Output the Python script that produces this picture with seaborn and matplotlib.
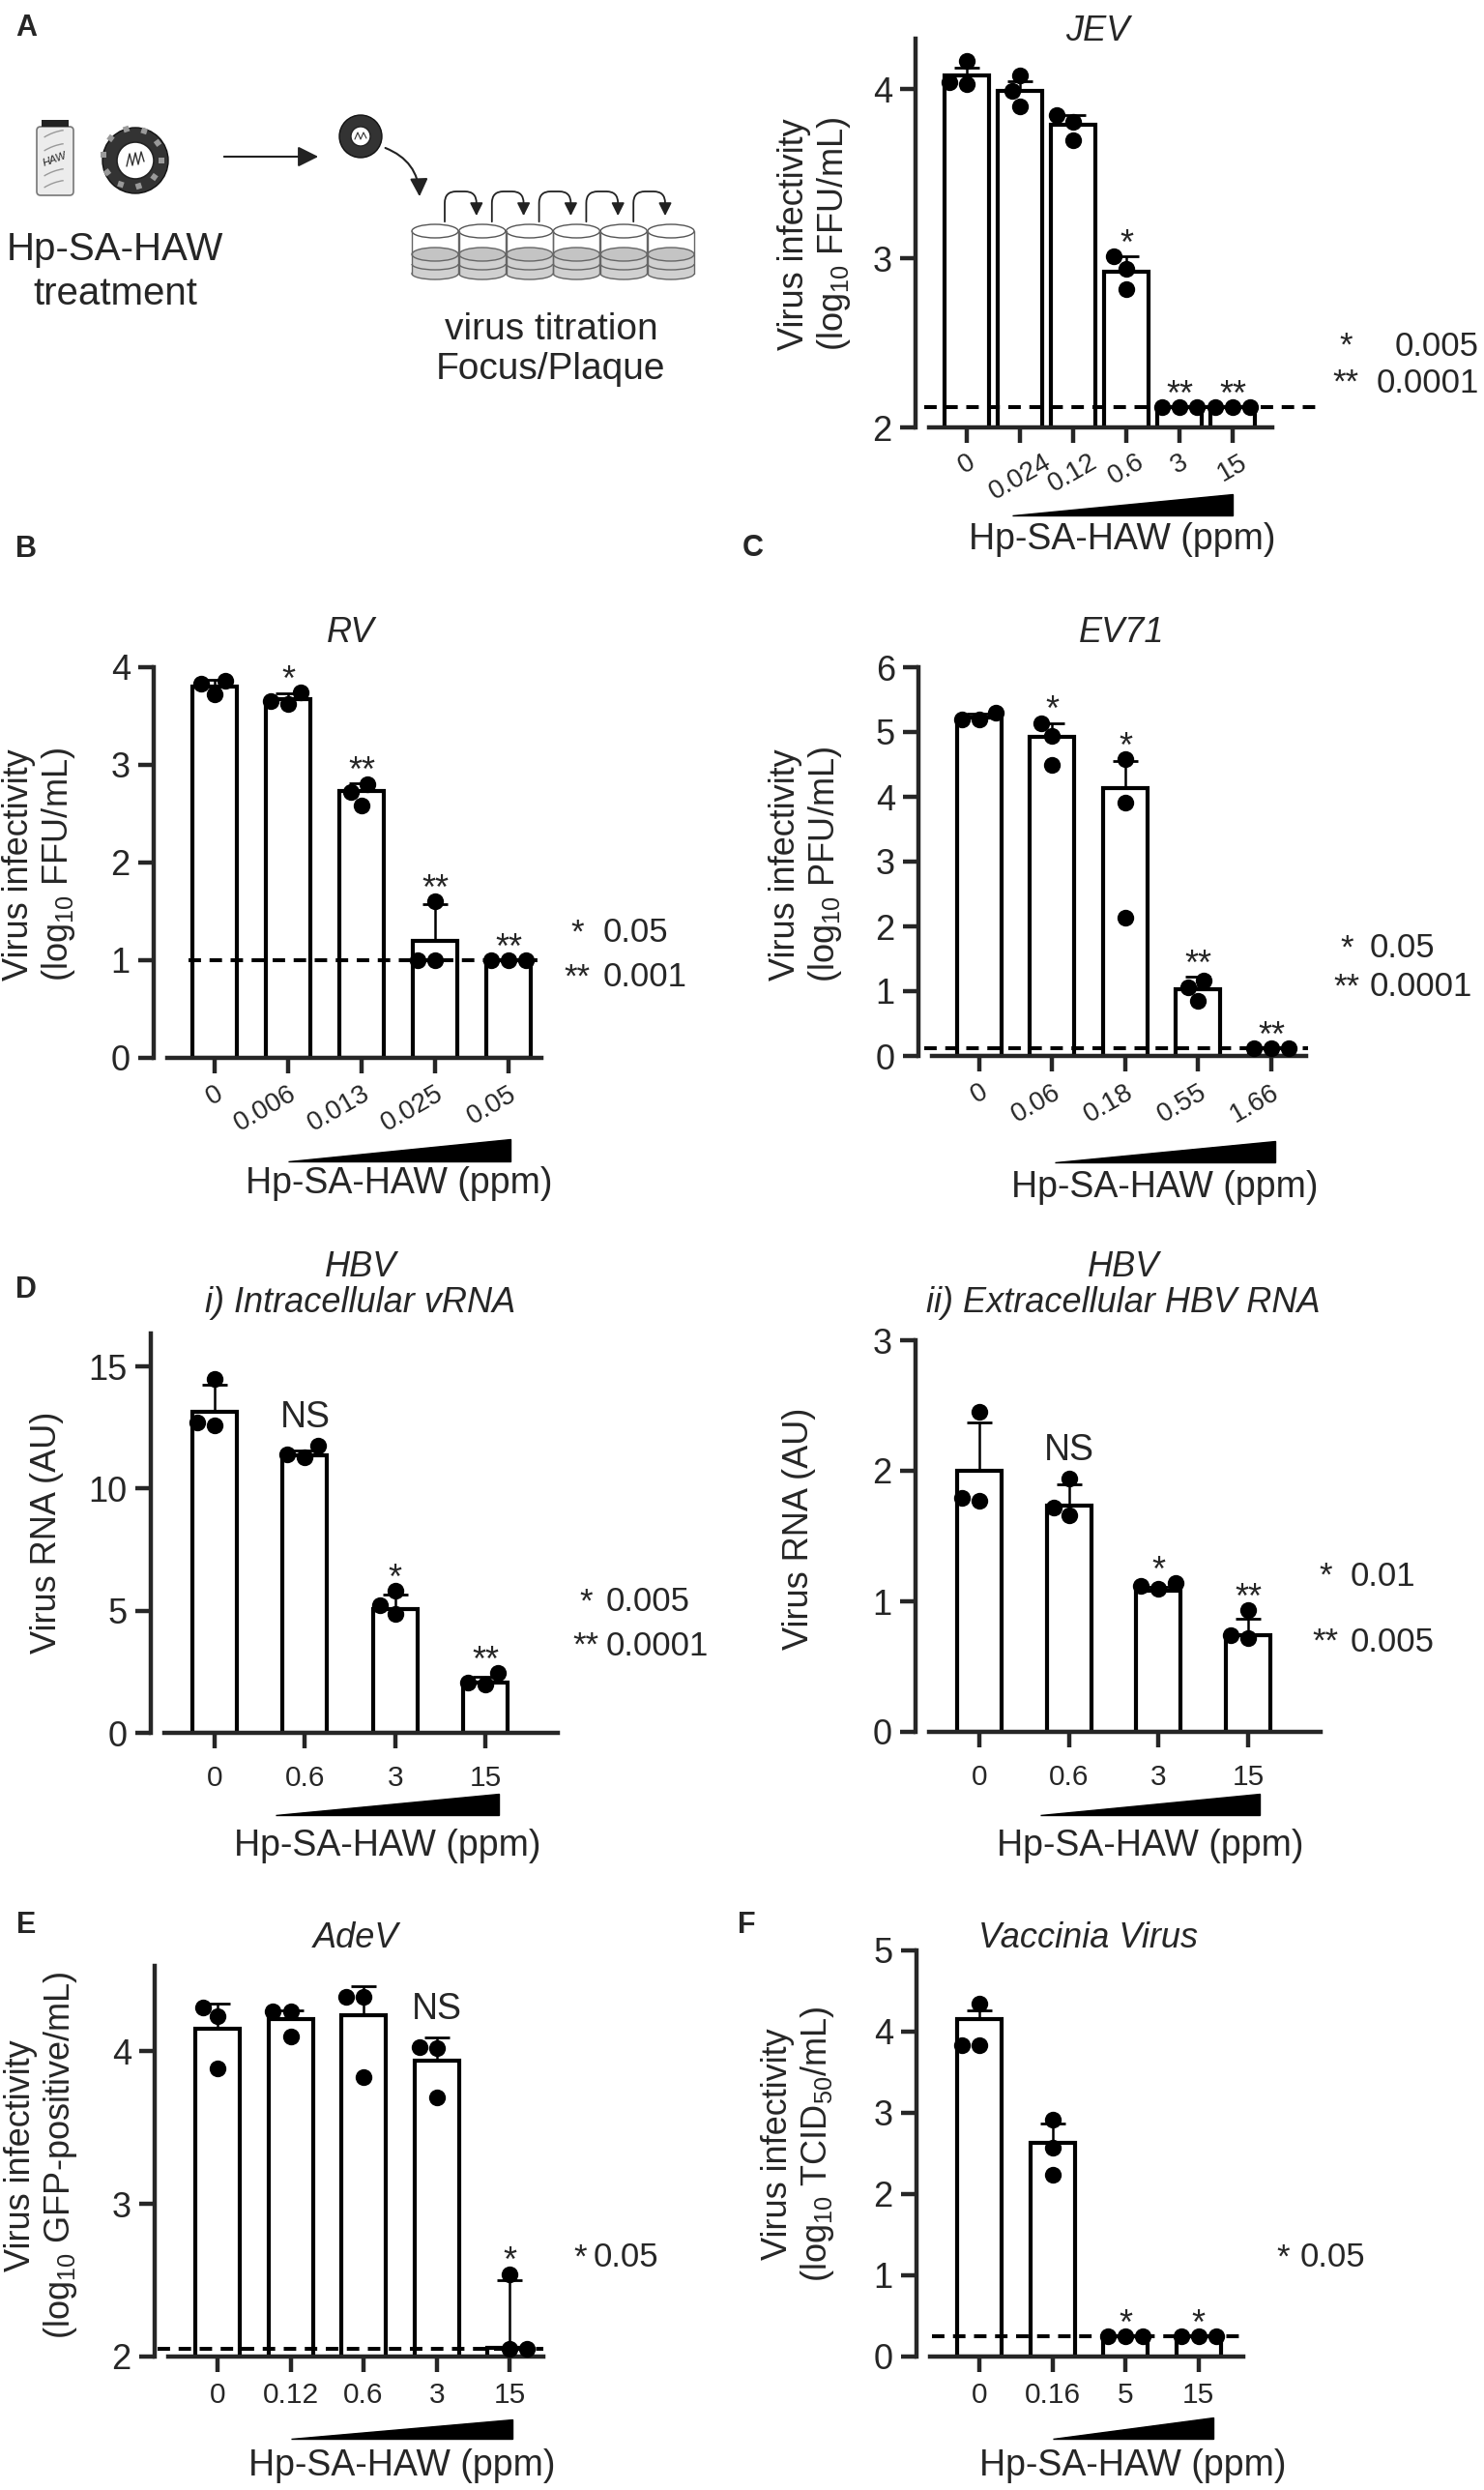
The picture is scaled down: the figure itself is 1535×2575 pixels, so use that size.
import numpy as np
import pandas as pd
import matplotlib
matplotlib.use('Agg')
import matplotlib.pyplot as plt
import matplotlib.transforms as mtransforms
from matplotlib.patches import Polygon, Circle, Ellipse, Rectangle, FancyBboxPatch, Arc
import seaborn as sns

W, H = 1535, 2575

# ---------------- data ----------------
jev_dose = ['0', '0.024', '0.12', '0.6', '3', '15']
jev_mean = [4.08, 3.99, 3.79, 2.92, 2.12, 2.12]
jev_err = [0.05, 0.06, 0.06, 0.09, 0, 0]
jev_reps = [[4.17, 4.04, 4.03], [4.08, 3.99, 3.90], [3.85, 3.81, 3.70],
            [3.01, 2.94, 2.82], [2.12, 2.12, 2.12], [2.12, 2.12, 2.12]]
jev_sig = ['', '', '', '*', '**', '**']
jev_lod = 2.12
jev_p = ['0.005', '0.0001']

rv_dose = ['0', '0.006', '0.013', '0.025', '0.05']
rv_mean = [3.80, 3.67, 2.73, 1.20, 1.00]
rv_err = [0.07, 0.06, 0.08, 0.37, 0]
rv_reps = [[3.72, 3.86, 3.83], [3.62, 3.74, 3.65], [2.80, 2.58, 2.72],
           [1.0, 1.6, 1.0], [1.0, 1.0, 1.0]]
rv_sig = ['', '*', '**', '**', '**']
rv_lod = 1.0
rv_p = ['0.05', '0.001']

ev_dose = ['0', '0.06', '0.18', '0.55', '1.66']
ev_mean = [5.23, 4.93, 4.13, 1.03, 0.12]
ev_err = [0.05, 0.20, 0.42, 0.19, 0]
ev_reps = [[5.20, 5.30, 5.19], [5.14, 4.50, 4.94], [4.58, 3.91, 2.13],
           [1.17, 0.85, 1.06], [0.12, 0.12, 0.12]]
ev_sig = ['', '*', '*', '**', '**']
ev_lod = 0.12
ev_p = ['0.05', '0.0001']

hbv1_dose = ['0', '0.6', '3', '15']
hbv1_mean = [13.13, 11.35, 5.08, 2.06]
hbv1_err = [1.12, 0.20, 0.59, 0.22]
hbv1_reps = [[12.6, 14.5, 12.7], [11.3, 11.75, 11.4], [4.86, 5.8, 5.22], [1.96, 2.45, 2.06]]
hbv1_sig = ['', 'NS', '*', '**']
hbv1_p = ['0.005', '0.0001']

hbv2_dose = ['0', '0.6', '3', '15']
hbv2_mean = [2.0, 1.73, 1.08, 0.74]
hbv2_err = [0.37, 0.17, 0.03, 0.13]
hbv2_reps = [[1.77, 2.45, 1.79], [1.66, 1.94, 1.72], [1.10, 1.14, 1.12], [0.72, 0.93, 0.74]]
hbv2_sig = ['', 'NS', '*', '**']
hbv2_p = ['0.01', '0.005']

ade_dose = ['0', '0.12', '0.6', '3', '15']
ade_mean = [4.15, 4.21, 4.24, 3.94, 2.06]
ade_err = [0.16, 0.06, 0.19, 0.15, 0.44]
ade_reps = [[4.29, 4.23, 3.89], [4.26, 4.26, 4.10], [4.36, 4.36, 3.83],
            [4.03, 4.02, 3.70], [2.05, 2.54, 2.05]]
ade_sig = ['', '', '', 'NS', '*']
ade_lod = 2.05
ade_p = ['0.05']

vac_dose = ['0', '0.16', '5', '15']
vac_mean = [4.15, 2.63, 0.25, 0.25]
vac_err = [0.11, 0.24, 0, 0]
vac_reps = [[3.83, 4.35, 3.83], [2.92, 2.57, 2.24], [0.25, 0.25, 0.25], [0.25, 0.25, 0.25]]
vac_sig = ['', '', '*', '*']
vac_lod = 0.25
vac_p = ['0.05']

# ---------------- style ----------------
sns.set_style('ticks')
plt.rcParams['font.family'] = ['Liberation Sans', 'DejaVu Sans']
plt.rcParams['mathtext.fontset'] = 'custom'
plt.rcParams['mathtext.rm'] = 'Liberation Sans'
plt.rcParams['mathtext.it'] = 'Liberation Sans:italic'
plt.rcParams['axes.linewidth'] = 3.2

fig = plt.figure(figsize=(W / 100, H / 100), dpi=100)


def px_axes(left, top, right, bottom):
    return fig.add_axes([left / W, 1 - bottom / H, (right - left) / W, (bottom - top) / H])


def ftext(x, y, s, **kw):
    fig.text(x / W, 1 - y / H, s, **kw)


def bar_panel(box, dose, mean, err, reps, sig, ylim, yticks, ylabel, xlim,
              lod=None, lod_span=None, rot=0, anchor=False, tick_fs=21, tick_pad=8,
              wedge=(1, 4), wedge_px=(64, 86), xlabel_off=116, ylabel_xy=(0, 0)):
    left, top, right, bottom = box
    ax = px_axes(*box)
    w_px, h_px = right - left, bottom - top
    step = w_px / (xlim[1] - xlim[0])
    n = len(dose)
    pos = np.arange(n)

    bars = pd.DataFrame({'pos': pos, 'value': mean})
    pts = pd.DataFrame({'pos': np.repeat(pos, [len(r) for r in reps]),
                        'value': np.concatenate(reps)})

    sns.barplot(data=bars, x='pos', y='value', native_scale=True, color='white',
                saturation=1, edgecolor='black', linewidth=3.0, width=46 / step,
                errorbar=None, ax=ax, zorder=1)
    ie = [i for i in range(n) if err[i] > 0]
    ax.errorbar(pos[ie], np.array(mean)[ie], yerr=[np.zeros(len(ie)), np.array(err)[ie]],
                fmt='none', ecolor='black', elinewidth=1.8, capsize=9.5, capthick=2, zorder=2)
    if lod is not None:
        ax.plot(lod_span, [lod, lod], color='black', lw=2.9, ls=(0, (3.2, 2.2)),
                clip_on=False, zorder=3)
    sns.swarmplot(data=pts, x='pos', y='value', native_scale=True, color='black', size=12.5,
                  ax=ax, zorder=4, clip_on=False, warn_thresh=1)

    for i, s in enumerate(sig):
        if not s:
            continue
        base = max(max(reps[i]), mean[i] + err[i])
        off = 8 if s == 'NS' else -4
        ax.annotate(s, (i, base), xytext=(0, off), textcoords='offset points',
                    ha='center', va='bottom', fontsize=27 if s == 'NS' else 26,
                    annotation_clip=False)

    ax.set_xlim(xlim)
    ax.set_ylim(ylim)
    ax.set_yticks(yticks)
    ax.set_yticklabels([str(t) for t in yticks])
    ax.set_xticks(pos)
    if rot and anchor:
        ax.set_xticklabels(dose, rotation=rot, ha='right', va='top',
                           rotation_mode='anchor', fontsize=tick_fs)
    elif rot:
        ax.set_xticklabels(dose, rotation=rot, ha='center', fontsize=tick_fs)
    else:
        ax.set_xticklabels(dose, fontsize=tick_fs)
    sns.despine(ax=ax)
    ax.spines['left'].set_position(('outward', 10))
    ax.tick_params(axis='y', length=11.5, width=3.2, labelsize=26, pad=6)
    ax.tick_params(axis='x', length=11.5, width=3.2, pad=tick_pad)

    # increasing-dose wedge
    trans = mtransforms.blended_transform_factory(ax.transData, ax.transAxes)
    yb, yt = -wedge_px[1] / h_px, -wedge_px[0] / h_px
    ax.add_patch(Polygon([(wedge[0], yb), (wedge[1], yb), (wedge[1], yt)], closed=True,
                         transform=trans, fc='black', ec='black', lw=1, clip_on=False))

    ax.set_xlabel('Hp-SA-HAW (ppm)', fontsize=27, va='center')
    ax.xaxis.set_label_coords(((wedge[0] + wedge[1]) / 2 - xlim[0]) / (xlim[1] - xlim[0]),
                              -xlabel_off / h_px)
    ax.set_ylabel(ylabel, fontsize=26, va='center', ha='center', linespacing=1.15)
    ax.yaxis.set_label_coords((ylabel_xy[0] - left) / w_px, (bottom - ylabel_xy[1]) / h_px)
    return ax


def p_legend(star_cx, num_x, ys, pvals, num_ha='left'):
    stars = ['*', '**']
    for k, p in enumerate(pvals):
        ftext(star_cx, ys[k], stars[k], fontsize=25, ha='center', va='center')
        ftext(num_x, ys[k], p, fontsize=25, ha=num_ha, va='center')


# ---------------- panel A schematic ----------------
ax0 = px_axes(0, 0, 770, 440)
ax0.set_xlim(0, 770)
ax0.set_ylim(440, 0)
ax0.axis('off')

ax0.add_patch(FancyBboxPatch((38, 131), 38, 71, boxstyle='round,pad=0,rounding_size=4',
                             fc='#ececec', ec='#777777', lw=1.2))
ax0.add_patch(Rectangle((43, 124), 28, 7, fc='#222222', ec='none'))
for yy in [142, 156, 182, 194]:
    ax0.add_patch(Arc((57, yy), 34, 10, angle=-20, theta1=200, theta2=340, color='#999999', lw=1))
ax0.text(57, 165, 'HAW', fontsize=8, rotation=20, ha='center', va='center', style='italic')

ax0.add_patch(Circle((140, 166), 34, fc='#333333', ec='#111111', lw=1))
for ang in np.linspace(0, 2 * np.pi, 10, endpoint=False):
    ax0.add_patch(Rectangle((140 + 27 * np.cos(ang) - 3, 166 + 27 * np.sin(ang) - 3), 6, 6,
                            angle=np.degrees(ang), fc='#9a9a9a', ec='none'))
ax0.add_patch(Circle((140, 166), 19, fc='white', ec='#222222', lw=1.2))
ax0.plot([131, 134, 137, 140, 143, 146, 149], [172, 159, 171, 158, 170, 157, 167],
         color='#333333', lw=1)

ax0.annotate('', xy=(332, 162), xytext=(229, 162),
             arrowprops=dict(arrowstyle='-|>', color='#222222', lw=1.5, mutation_scale=32))

ax0.add_patch(Circle((373, 141), 22, fc='#333333', ec='#111111', lw=1))
ax0.add_patch(Circle((373, 141), 10, fc='white', ec='#222222', lw=1))
ax0.plot([367, 370, 373, 376, 379], [144, 137, 144, 137, 143], color='#333333', lw=0.8)

ax0.annotate('', xy=(434, 206), xytext=(396, 152),
             arrowprops=dict(arrowstyle='-|>', color='#222222', lw=1.5, mutation_scale=28,
                             connectionstyle='arc3,rad=-0.35'))

well_x = [450 + 48.8 * i for i in range(6)]
for cx in well_x:
    ax0.add_patch(Ellipse((cx, 283), 48, 12, fc='#d0d0d0', ec='#666666', lw=1))
    ax0.add_patch(Rectangle((cx - 24, 239), 48, 44, fc='white', ec='none'))
    ax0.add_patch(Rectangle((cx - 24, 263), 48, 20, fc='#d0d0d0', ec='none'))
    ax0.add_patch(Arc((cx, 273), 48, 12, theta1=0, theta2=180, color='#666666', lw=1))
    ax0.add_patch(Ellipse((cx, 263), 48, 14, fc='#c4c4c4', ec='#666666', lw=1))
    ax0.plot([cx - 24, cx - 24], [239, 283], color='#666666', lw=1)
    ax0.plot([cx + 24, cx + 24], [239, 283], color='#666666', lw=1)
    ax0.add_patch(Ellipse((cx, 239), 48, 14, fc='white', ec='#555555', lw=1))
for i in range(5):
    ax0.annotate('', xy=(well_x[i + 1] - 6, 226), xytext=(well_x[i] + 10, 232),
                 arrowprops=dict(arrowstyle='-|>', color='#222222', lw=1.3, mutation_scale=20,
                                 connectionstyle='arc,angleA=90,armA=34,angleB=90,armB=28,rad=12'))

ax0.text(119, 258, 'Hp-SA-HAW', fontsize=29, ha='center', va='center')
ax0.text(119, 304, 'treatment', fontsize=29, ha='center', va='center')
ax0.text(570, 341, 'virus titration', fontsize=28, ha='center', va='center')
ax0.text(570, 382, 'Focus/Plaque', fontsize=28, ha='center', va='center')

# ---------------- bar panels ----------------
lab_inf = 'Virus infectivity\n(log$_{10}$ FFU/mL)'

bar_panel((961, 40, 1316, 442), jev_dose, jev_mean, jev_err, jev_reps, jev_sig,
          (2, 4.3), [2, 3, 4], lab_inf, (-0.709, 5.745), lod=jev_lod, lod_span=(-0.8, 6.69),
          rot=30, anchor=False, tick_fs=20, tick_pad=5, wedge=(0.85, 5.0), wedge_px=(69, 91),
          xlabel_off=116, ylabel_xy=(843, 242))
ftext(1135, 33, 'JEV', fontsize=26, style='italic', ha='center', va='center')
p_legend(1392, 1530, (358, 396), jev_p, num_ha='right')

bar_panel((173, 690, 560, 1094), rv_dose, rv_mean, rv_err, rv_reps, rv_sig,
          (0, 4), [0, 1, 2, 3, 4], lab_inf, (-0.645, 4.447), lod=rv_lod, lod_span=(-0.36, 4.45),
          rot=30, anchor=True, tick_fs=20, tick_pad=6, wedge=(1.0, 4.03), wedge_px=(84, 107),
          xlabel_off=130, ylabel_xy=(41, 894))
ftext(363, 654, 'RV', fontsize=26, style='italic', ha='center', va='center')
p_legend(597, 624, (965, 1011), rv_p)

bar_panel((964, 690, 1351, 1092), ev_dose, ev_mean, ev_err, ev_reps, ev_sig,
          (0, 6), [0, 1, 2, 3, 4, 5, 6], 'Virus infectivity\n(log$_{10}$ PFU/mL)',
          (-0.649, 4.477), lod=ev_lod, lod_span=(-0.75, 4.5),
          rot=30, anchor=True, tick_fs=20, tick_pad=6, wedge=(1.03, 4.05), wedge_px=(88, 110),
          xlabel_off=136, ylabel_xy=(834, 894))
ftext(1160, 654, 'EV71', fontsize=26, style='italic', ha='center', va='center')
p_legend(1393, 1417, (981, 1021), ev_p)

bar_panel((170, 1379, 577, 1792), hbv1_dose, hbv1_mean, hbv1_err, hbv1_reps, hbv1_sig,
          (0, 16.35), [0, 5, 10, 15], 'Virus RNA (AU)', (-0.556, 3.80),
          tick_fs=21.5, tick_pad=12, wedge=(0.68, 3.15), wedge_px=(63, 85),
          xlabel_off=117, ylabel_xy=(49, 1585))
ftext(373, 1329, 'HBV\ni) Intracellular vRNA', fontsize=26, style='italic', ha='center',
      va='center', linespacing=1.05)
p_legend(606, 627, (1657, 1702), hbv1_p)

bar_panel((961, 1386, 1366, 1791), hbv2_dose, hbv2_mean, hbv2_err, hbv2_reps, hbv2_sig,
          (0, 3), [0, 1, 2, 3], 'Virus RNA (AU)', (-0.561, 3.81),
          tick_fs=21.5, tick_pad=12, wedge=(0.68, 3.13), wedge_px=(64, 86),
          xlabel_off=118, ylabel_xy=(826, 1581))
ftext(1162, 1329, 'HBV\nii) Extracellular HBV RNA', fontsize=26, style='italic', ha='center',
      va='center', linespacing=1.05)
p_legend(1371, 1397, (1630, 1698), hbv2_p)

bar_panel((174, 2033, 562, 2437), ade_dose, ade_mean, ade_err, ade_reps, ade_sig,
          (2, 4.56), [2, 3, 4], 'Virus infectivity\n(log$_{10}$ GFP-positive/mL)',
          (-0.675, 4.46), lod=ade_lod, lod_span=(-0.82, 4.46),
          tick_fs=21.5, tick_pad=7, wedge=(1.0, 4.04), wedge_px=(65, 85),
          xlabel_off=113, ylabel_xy=(43, 2229))
ftext(368, 2005, 'AdeV', fontsize=26, style='italic', ha='center', va='center')
p_legend(600, 614, (2335,), ade_p)

bar_panel((962, 2017, 1286, 2437), vac_dose, vac_mean, vac_err, vac_reps, vac_sig,
          (0, 5), [0, 1, 2, 3, 4, 5], 'Virus infectivity\n(log$_{10}$ TCID$_{50}$/mL)',
          (-0.674, 3.61), lod=vac_lod, lod_span=(-0.65, 3.62),
          tick_fs=21.5, tick_pad=7, wedge=(1.0, 3.2), wedge_px=(63, 85),
          xlabel_off=113, ylabel_xy=(826, 2217))
ftext(1126, 2005, 'Vaccinia Virus', fontsize=26, style='italic', ha='center', va='center')
p_legend(1327, 1345, (2335,), vac_p)

# panel letters
for letter, (lx, ly) in {'A': (27, 29), 'B': (27, 568), 'C': (779, 567),
                         'D': (27, 1334), 'E': (27, 1991), 'F': (772, 1991)}.items():
    ftext(lx, ly, letter, fontsize=22, fontweight='bold', ha='center', va='center')

fig.savefig('out.png', dpi=100, facecolor='white')
